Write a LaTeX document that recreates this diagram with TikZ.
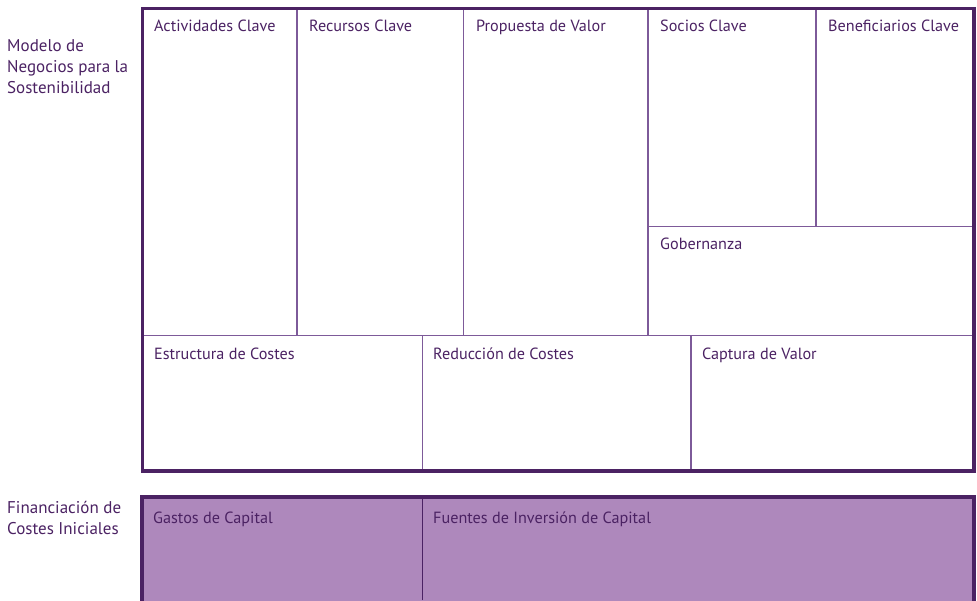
\documentclass[tikz,border=0pt]{standalone}
\usepackage{fontspec}
\setmainfont{PT Sans}
\definecolor{dk}{HTML}{4B2263}
\definecolor{ln}{HTML}{7D5A99}
\definecolor{fl}{HTML}{AE88BC}
\begin{document}
\begin{tikzpicture}[x=1pt,y=-1pt,
  lbl/.style={anchor=base west,inner sep=0pt,text=dk,font=\fontsize{16.2}{21.5}\selectfont},
  side/.style={lbl,align=left,font=\fontsize{17}{21.3}\selectfont},
  thin/.style={draw=ln,line width=1.8pt},
  thick/.style={draw=dk,line width=3.8pt}]
\useasboundingbox (0,0) rectangle (977,600);
% bottom block
\fill[fl] (142,497) rectangle (974,610);
\draw[draw=dk,line width=1.8pt] (422.5,497) -- (422.5,600);
\draw[thick] (142,610) -- (142,497) -- (974,497) -- (974,610);
% top block inner lines
\draw[thin] (142.5,335.5) -- (974,335.5);
\draw[thin] (297,8.5) -- (297,335.5);
\draw[thin] (463.5,8.5) -- (463.5,335.5);
\draw[thin] (648,8.5) -- (648,335.5);
\draw[thin] (816,8.5) -- (816,226.5);
\draw[thin] (648,226.5) -- (974,226.5);
\draw[thin] (422.5,335.5) -- (422.5,471);
\draw[thin] (691,335.5) -- (691,471);
\draw[thick] (142.5,8.5) rectangle (974,471);
% labels
\node[lbl] (act) at (154,31.5) {Actividades Clave};
\node[lbl] (rec) at (309,31.5) {Recursos Clave};
\node[lbl] (pro) at (476,31.5) {Propuesta de Valor};
\node[lbl] (soc) at (660,31.5) {Socios Clave};
\node[lbl] (ben) at (828,31.5) {Beneficiarios Clave};
\node[lbl] (gob) at (660,249) {Gobernanza};
\node[lbl] (est) at (154,359) {Estructura de Costes};
\node[lbl] (red) at (433,359) {Reducción de Costes};
\node[lbl] (cap) at (702,359) {Captura de Valor};
\node[lbl] (gas) at (153,523) {Gastos de Capital};
\node[lbl] (fue) at (433,523) {Fuentes de Inversión de Capital};
\node[side,anchor=north west] (mod) at (7,39) {Modelo de\\Negocios para la\\Sostenibilidad};
\node[side,anchor=north west] (fin) at (7,501) {Financiación de\\Costes Iniciales};
\end{tikzpicture}
\end{document}
